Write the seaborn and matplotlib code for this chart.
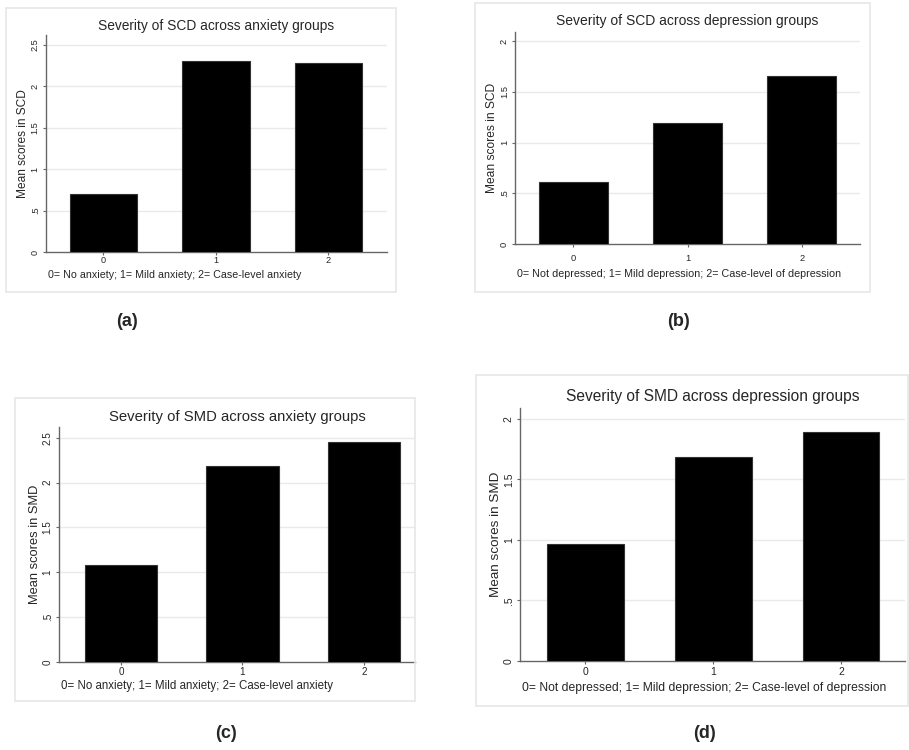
import pandas as pd
import matplotlib
import seaborn as sns
import matplotlib.pyplot as plt
from matplotlib.patches import Rectangle

matplotlib.use('Agg')

groups = ['0', '1', '2']
scd_anxiety = [0.70, 2.31, 2.28]
scd_depression = [0.61, 1.19, 1.655]
smd_anxiety = [1.08, 2.19, 2.45]
smd_depression = [0.97, 1.686, 1.89]

ticks_25 = [0, 0.5, 1, 1.5, 2, 2.5]
ticks_2 = [0, 0.5, 1, 1.5, 2]
tick_labels = ['0', '.5', '1', '1.5', '2', '2.5']

titles = ['Severity of SCD across anxiety groups',
          'Severity of SCD across depression groups',
          'Severity of SMD across anxiety groups',
          'Severity of SMD across depression groups']
ylabels = ['Mean scores in SCD', 'Mean scores in SCD',
           'Mean scores in SMD', 'Mean scores in SMD']
notes = ['0= No anxiety; 1= Mild anxiety; 2= Case-level anxiety',
         '0= Not depressed; 1= Mild depression; 2= Case-level of depression',
         '0= No anxiety; 1= Mild anxiety; 2= Case-level anxiety',
         '0= Not depressed; 1= Mild depression; 2= Case-level of depression']
panel_labels = ['(a)', '(b)', '(c)', '(d)']

sns.set_theme(style='white')
plt.rcParams['font.family'] = ['Liberation Sans', 'DejaVu Sans']

W, H = 909, 750
fig = plt.figure(figsize=(W / 100, H / 100), dpi=100)


def px_axes(x0, y0, x1, y1):
    # pixel box (top-left origin) -> figure axes
    return fig.add_axes([x0 / W, 1 - y1 / H, (x1 - x0) / W, (y1 - y0) / H])


def frame(x0, y0, x1, y1):
    fig.patches.append(Rectangle((x0 / W, 1 - y1 / H), (x1 - x0) / W, (y1 - y0) / H,
                                 transform=fig.transFigure, fill=False,
                                 edgecolor='#e6e6e6', linewidth=1.2))


# layout in pixels: axes box, y max, x max, font scale, frame box, label pos,
# title / note offsets (px from axes edge) and x tick pad (pt)
panels = [
    dict(vals=scd_anxiety, box=(46, 35, 387, 252), ymax=2.62, xmax=2.52, ticks=ticks_25,
         s=1.0, frame=(6, 8, 396, 292), lab=(127, 322), t_off=9, n_off=23, xpad=0.5),
    dict(vals=scd_depression, box=(515, 32, 860, 244), ymax=2.09, xmax=2.51, ticks=ticks_2,
         s=1.01, frame=(475, 3, 870, 292), lab=(678, 322), t_off=10.5, n_off=30, xpad=4.5),
    dict(vals=smd_anxiety, box=(59, 427, 415, 662), ymax=2.62, xmax=2.42, ticks=ticks_25,
         s=1.08, frame=(15, 398, 415, 701), lab=(226, 733), t_off=9.5, n_off=24, xpad=1.0),
    dict(vals=smd_depression, box=(520, 408, 905, 661), ymax=2.09, xmax=2.50, ticks=ticks_2,
         s=1.13, frame=(476, 375, 908, 706), lab=(705, 733), t_off=11.5, n_off=27, xpad=1.5),
]

for i, p in enumerate(panels):
    frame(*p['frame'])
    ax = px_axes(*p['box'])
    h = p['box'][3] - p['box'][1]
    df = pd.DataFrame({'group': groups, 'score': p['vals']})
    sns.barplot(data=df, x='group', y='score', color='black', width=0.6,
                edgecolor='#333333', linewidth=0.8, saturation=1, ax=ax, zorder=3)
    s = p['s']
    ax.set_xlim(-0.51, p['xmax'])
    ax.set_ylim(0, p['ymax'])
    ax.set_yticks(p['ticks'])
    ax.set_yticklabels(tick_labels[:len(p['ticks'])], rotation=90, va='center')
    for t in p['ticks'][1:]:
        ax.axhline(t, color='#eaeaea', linewidth=1.0, zorder=1)
    for side in ['top', 'right']:
        ax.spines[side].set_visible(False)
    for side in ['left', 'bottom']:
        ax.spines[side].set_color('#666666')
        ax.spines[side].set_linewidth(1.0)
    ax.tick_params(axis='both', which='both', length=2.5, width=0.8, color='#666666',
                   direction='out', labelsize=6.6 * s, bottom=True, left=True)
    ax.tick_params(axis='x', pad=p['xpad'])
    ax.tick_params(axis='y', pad=2)
    ax.set_xlabel('')
    ax.set_ylabel(ylabels[i], fontsize=8.6 * s, labelpad=1)
    ax.text(0.5, 1 + p['t_off'] / h, titles[i], transform=ax.transAxes,
            fontsize=9.9 * s, ha='center', va='center')
    ax.text(0.005, -p['n_off'] / h, notes[i], transform=ax.transAxes, fontsize=7.7 * s,
            ha='left', va='center')
    fig.text(p['lab'][0] / W, 1 - p['lab'][1] / H, panel_labels[i], fontsize=13,
             fontweight='bold', ha='center', va='center')

plt.savefig('out.png', dpi=100)
